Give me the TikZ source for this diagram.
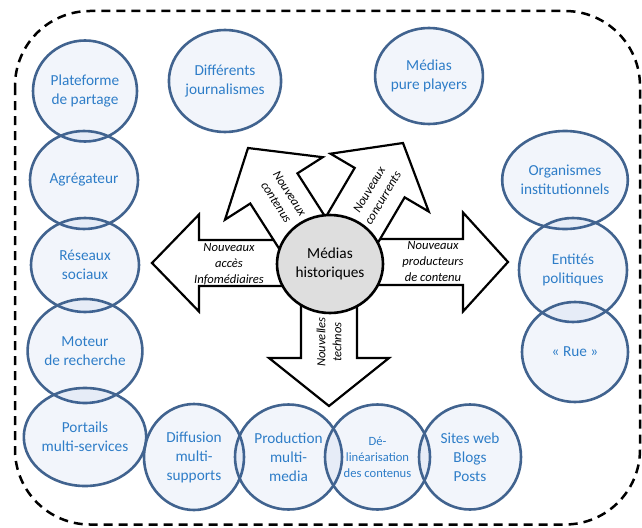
\documentclass[tikz,border=0pt]{standalone}
\usepackage{fontspec}
\setmainfont{Carlito}
\usetikzlibrary{shapes.geometric}

\definecolor{bulleborder}{RGB}{65,99,143}
\definecolor{bullefill}{RGB}{60,110,190}
\definecolor{bulletext}{RGB}{46,125,200}
\definecolor{centrefill}{RGB}{222,222,222}

% fat white arrow: tip, angle, length, shaft half width, head half width, head length
\newcommand{\fatarrow}[6]{%
  \draw[fleche, shift={#1}, rotate=#2]
    (-#3,-#4) -- (-#6,-#4) -- (-#6,-#5) -- (0,0) -- (-#6,#5) -- (-#6,#4) -- (-#3,#4) -- cycle;}

\begin{document}
\begin{tikzpicture}[x=1pt, y=-1pt,
    bulle/.style={ellipse, draw=bulleborder, line width=2.6pt, fill=bullefill, fill opacity=0.065, text opacity=1,
        text=bulletext, align=center, inner sep=0pt, minimum width=106pt, minimum height=100pt,
        font=\fontsize{15.3}{19}\selectfont},
    petit/.style={font=\fontsize{12.6}{16}\selectfont},
    centre/.style={ellipse, draw=black, line width=2.6pt, fill=centrefill, align=center, inner sep=0pt,
        minimum width=106pt, minimum height=98pt, font=\fontsize{15.3}{19}\selectfont},
    fleche/.style={draw=black, line width=2.2pt, fill=white, line join=miter},
    fltext/.style={align=center, inner sep=0pt, font=\fontsize{12.6}{16}\selectfont\itshape},
    cadre/.style={draw=black, line width=2.5pt, dash pattern=on 9pt off 6pt, rounded corners=75pt}
]
    \useasboundingbox (0,0) rectangle (642,527);

    \draw[cadre] (15,11) rectangle (640,524.5);

    % left column
    \node[bulle, minimum width=104pt, minimum height=101pt] (plateforme) at (85,91) {Plateforme\\de partage};
    \node[bulle, minimum width=108pt, minimum height=98pt] (agregateur) at (84,180) {Agrégateur};
    \node[bulle, minimum width=108pt, minimum height=94pt] (reseaux) at (85,265) {Réseaux\\sociaux};
    \node[bulle, minimum width=108pt, minimum height=104pt] (moteur) at (85,351) {Moteur\\de recherche};
    \node[bulle, minimum width=106pt, minimum height=98pt] (portails) at (85,437) {Portails\\multi-services};

    % top
    \node[bulle, minimum width=108pt, minimum height=102pt] (journalismes) at (225,81) {Différents\\journalismes};
    \node[bulle, minimum width=106pt, minimum height=96pt] (pureplayers) at (429,76) {Médias\\pure players};

    % right column
    \node[bulle, minimum width=108pt, minimum height=98pt] (organismes) at (565,180) {Organismes\\institutionnels};
    \node[bulle, minimum width=108pt, minimum height=104pt] (entites) at (573,270) {Entités\\politiques};
    \node[bulle, minimum width=106pt, minimum height=100pt] (rue) at (575,352) {« Rue »};

    % bottom row
    \node[bulle, minimum width=100pt, minimum height=106pt] (diffusion) at (194,457) {Diffusion\\multi-\\supports};
    \node[bulle, minimum width=107pt, minimum height=105pt] (production) at (288.5,457) {Production\\multi-\\media};
    \node[bulle, petit, minimum width=105pt, minimum height=105pt] (delinearisation) at (377.5,457) {Dé-\\linéarisation\\des contenus};
    \node[bulle, minimum width=102pt, minimum height=105pt] (sites) at (470,457) {Sites web\\Blogs\\Posts};

    % arrows around the centre
    \fatarrow{(152,263)}{180}{170}{23}{48.5}{47}
    \fatarrow{(508,262)}{0}{170}{23}{49.5}{45}
    \fatarrow{(329,406)}{-90}{140}{28}{60}{48}
    \fatarrow{(248,148)}{122.6}{115}{28}{58}{48}
    \fatarrow{(403,143)}{59.5}{115}{29}{57}{46}

    \node[fltext] (acces) at (229,264) {Nouveaux\\accès\\Infomédiaires};
    \node[fltext] (producteurs) at (433,262) {Nouveaux\\producteurs\\de contenu};
    \node[fltext, rotate=90] (technos) at (329,342) {Nouvelles\\technos};
    \node[fltext, rotate=-57.4] (contenus) at (283,198) {Nouveaux\\contenus};
    \node[fltext, rotate=59.5] (concurrents) at (376,194) {Nouveaux\\concurrents};

    \node[centre] (historiques) at (330,264) {Médias\\historiques};
\end{tikzpicture}
\end{document}
